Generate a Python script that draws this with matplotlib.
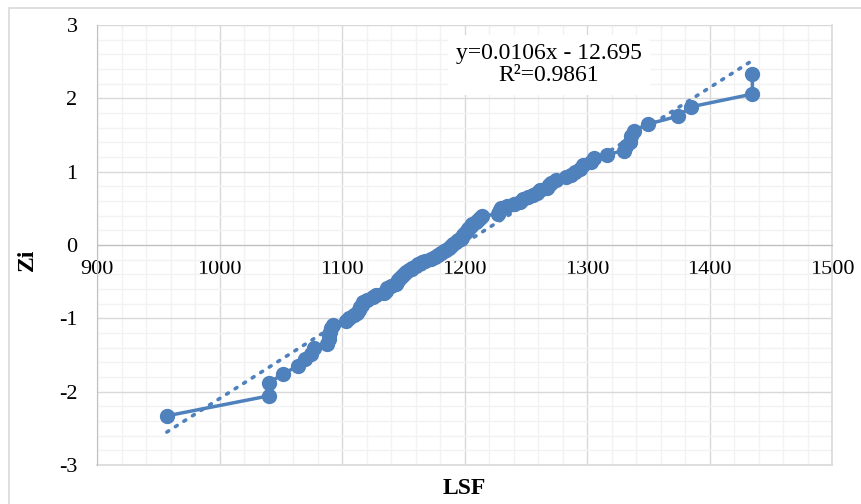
import matplotlib.pyplot as plt
from matplotlib.patches import Rectangle
from matplotlib.ticker import MultipleLocator

plt.rcParams['axes.unicode_minus'] = False

# sorted LSF values and their normal scores Zi
lsf = [957, 1040, 1040, 1052, 1064, 1070, 1075, 1077, 1088, 1089,
       1089, 1090, 1091, 1093, 1103, 1106, 1110, 1112, 1114, 1115,
       1116, 1117, 1120, 1125, 1128, 1134, 1136, 1137, 1140, 1144,
       1145, 1146, 1147, 1149, 1151, 1152, 1155, 1157, 1160, 1162,
       1165, 1168, 1173, 1176, 1178, 1181, 1183, 1185, 1187, 1189,
       1191, 1193, 1195, 1197, 1198, 1199, 1200, 1202, 1203, 1204,
       1205, 1206, 1209, 1211, 1213, 1214, 1227, 1228, 1229, 1230,
       1235, 1240, 1245, 1248, 1252, 1256, 1259, 1262, 1267, 1269,
       1271, 1275, 1283, 1287, 1290, 1294, 1297, 1303, 1306, 1316,
       1330, 1332, 1335, 1336, 1338, 1350, 1374, 1385, 1435, 1435]

z_half = [2.330, 2.058, 1.885, 1.755, 1.650, 1.560, 1.481, 1.410, 1.347, 1.287,
          1.232, 1.180, 1.132, 1.087, 1.043, 1.001, 0.961, 0.922, 0.885, 0.849,
          0.814, 0.780, 0.746, 0.714, 0.682, 0.651, 0.621, 0.591, 0.562, 0.533,
          0.505, 0.477, 0.449, 0.422, 0.395, 0.368, 0.342, 0.316, 0.290, 0.264,
          0.238, 0.213, 0.187, 0.162, 0.137, 0.112, 0.087, 0.062, 0.037, 0.012]
zi = [-v for v in z_half] + z_half[::-1]

# trendline shown on the chart
slope = 0.0106
intercept = -12.695
r2 = 0.9861

blue = '#4F81BD'
serif = ['Liberation Serif', 'DejaVu Serif']

fig = plt.figure(figsize=(8.61, 5.04), dpi=100)
fig.patches.append(Rectangle((9 / 861, -0.1), 1.2, 1 - 8 / 504 + 0.1,
                             transform=fig.transFigure, fill=False,
                             edgecolor='#D9D9D9', linewidth=1.2))
ax = fig.add_axes([97 / 861, 1 - 465 / 504, 735 / 861, 440 / 504])

ax.set_xlim(900, 1500)
ax.set_ylim(-3, 3)
ax.xaxis.set_major_locator(MultipleLocator(100))
ax.xaxis.set_minor_locator(MultipleLocator(20))
ax.yaxis.set_major_locator(MultipleLocator(1))
ax.yaxis.set_minor_locator(MultipleLocator(0.2))
ax.grid(which='major', color='#D9D9D9', linewidth=1.0, zorder=0)
ax.grid(which='minor', color='#F2F2F2', linewidth=1.0, zorder=0)
ax.set_axisbelow(True)

for s in ['top', 'right']:
    ax.spines[s].set_visible(False)
ax.spines['left'].set_color('#BFBFBF')
ax.spines['bottom'].set_color('#BFBFBF')
ax.spines['bottom'].set_position(('data', 0))
ax.axhline(-3, color='#D9D9D9', linewidth=1.2, clip_on=False, zorder=1)
ax.axvline(1500, color='#D9D9D9', linewidth=1.2, clip_on=False, zorder=1)

ax.tick_params(which='both', length=0)
ax.tick_params(axis='x', pad=11)
ax.tick_params(axis='y', pad=14)
for lab in ax.get_xticklabels() + ax.get_yticklabels():
    lab.set_fontfamily(serif)
    lab.set_fontsize(16)

# trendline
tx = [min(lsf), max(lsf)]
ty = [slope * v + intercept for v in tx]
ax.plot(tx, ty, color=blue, linewidth=2.6, linestyle=(0, (0.6, 2.2)),
        dash_capstyle='round', zorder=2)

# data series
ax.plot(lsf, zi, color=blue, linewidth=2.5, marker='o', markersize=10,
        zorder=3)

ax.text(1269, 2.46, f'y={slope}x - {abs(intercept)}\nR²={r2}',
        ha='center', va='center', fontsize=17, family=serif,
        linespacing=1.08,
        bbox=dict(facecolor='white', edgecolor='none', pad=6), zorder=4)

fig.text(464 / 861, 1 - 489 / 504, 'LSF', ha='center', va='center',
         fontsize=17, fontweight='bold', family=serif)
fig.text(27 / 861, 1 - 260 / 504, 'Zi', ha='center', va='center',
         rotation=90, fontsize=17, fontweight='bold', family=serif)

fig.savefig('out.png', dpi=100)
